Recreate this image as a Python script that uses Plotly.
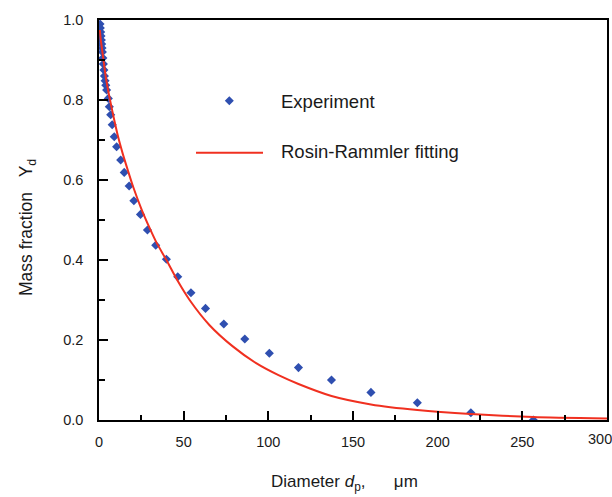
import plotly.graph_objects as go

# ---- data ----
exp_d = [0.6, 0.8, 1.0, 1.2, 1.4, 1.6, 1.8, 2.0, 2.3, 2.6, 2.9, 3.2, 3.6, 4.0,
         4.5, 5.5, 6.1, 6.9, 7.8, 9.0, 10.4, 12.8, 14.9, 17.8, 20.6, 24.5, 28.6,
         33.5, 39.8, 46.5, 54.3, 62.9, 73.7, 86.1, 100.6, 117.8, 137.3, 160.6,
         188.0, 219.6, 256.5]
exp_y = [0.99, 0.98, 0.97, 0.96, 0.95, 0.94, 0.93, 0.92, 0.905, 0.89, 0.875,
         0.86, 0.848, 0.837, 0.825, 0.804, 0.783, 0.763, 0.738, 0.708, 0.683,
         0.65, 0.619, 0.585, 0.548, 0.514, 0.475, 0.437, 0.402, 0.358, 0.318,
         0.279, 0.24, 0.2025, 0.167, 0.131, 0.10, 0.069, 0.043, 0.018, 0.0]

fit_d = [0.5, 1, 2.5, 4, 6.5, 9, 11.4, 14, 17.2, 20, 25, 30, 33.9, 39.8, 46.7,
         53.5, 65.3, 79, 92.8, 106, 117.8, 137.3, 160.6, 188, 219.6, 256.5, 300]
fit_y = [0.975, 0.952, 0.905, 0.858, 0.80, 0.75, 0.706, 0.666, 0.622, 0.585,
         0.528, 0.479, 0.444, 0.40, 0.346, 0.30, 0.237, 0.184, 0.142, 0.112,
         0.09, 0.06, 0.039, 0.025, 0.015, 0.0075, 0.0035]

x_ticks = [0, 50, 100, 150, 200, 250]
y_ticks = [0.0, 0.2, 0.4, 0.6, 0.8, 1.0]

legend_labels = ["Experiment", "Rosin-Rammler fitting"]
NB = "\u00a0"
x_title = "Diameter <i>d</i><sub>p</sub>," + NB * 6 + "μm"
y_title = "Mass fraction" + NB * 3 + "Y<sub>d</sub>"

BLUE = "#2f4fb0"
RED = "#f03020"
FONT = "Liberation Sans, Arial, sans-serif"
TXT = "#1a1a1a"

fig = go.Figure()
fig.add_trace(go.Scatter(x=exp_d, y=exp_y, mode="markers",
                         marker=dict(symbol="diamond", size=7, color=BLUE),
                         name=legend_labels[0], showlegend=False))
fig.add_trace(go.Scatter(x=fit_d, y=fit_y, mode="lines",
                         line=dict(color=RED, width=2, shape="spline", smoothing=0.6),
                         name=legend_labels[1], showlegend=False))

axis_common = dict(showline=True, linecolor="black", linewidth=1.5, mirror=True,
                   showgrid=False, zeroline=False, ticks="inside",
                   tickcolor="black", tickwidth=1.5, automargin=False,
                   tickfont=dict(family=FONT, size=14.5, color=TXT))

fig.update_xaxes(range=[0, 300], tickvals=x_ticks, ticklen=9,
                 ticklabelstandoff=8,
                 minor=dict(dtick=25, tick0=0, ticks="inside", ticklen=5,
                            tickcolor="black", tickwidth=1.5),
                 **axis_common)
fig.update_yaxes(range=[0, 1], tickvals=y_ticks, tickformat=".1f", ticklen=9,
                 ticklabelstandoff=11,
                 minor=dict(dtick=0.1, tick0=0, ticks="inside", ticklen=6,
                            tickcolor="black", tickwidth=1.5),
                 **axis_common)

# plot area: x 99..607 px, y 20..420 px
L, R, T, B = 99, 5, 20, 77
W, H = 612, 497
PW, PH = W - L - R, H - T - B

def px(xp):
    return (xp - L) / PW

def py(yp):
    return (H - B - yp) / PH

annotations = [
    dict(text=legend_labels[0], x=px(279), y=py(101), xref="paper", yref="paper",
         xanchor="left", yanchor="middle", showarrow=False,
         font=dict(family=FONT, size=18.5, color=TXT)),
    dict(text=legend_labels[1], x=px(279), y=py(152), xref="paper", yref="paper",
         xanchor="left", yanchor="middle", showarrow=False,
         font=dict(family=FONT, size=18.5, color=TXT)),
    dict(text=x_title, x=px(344), y=py(483), xref="paper", yref="paper",
         xanchor="center", yanchor="middle", showarrow=False,
         font=dict(family=FONT, size=17, color=TXT)),
    dict(text=y_title, x=px(27), y=py(228), xref="paper", yref="paper",
         xanchor="center", yanchor="middle", showarrow=False, textangle=-90,
         font=dict(family=FONT, size=17.5, color=TXT)),
    dict(text="300", x=300, y=0, xref="x", yref="paper", xanchor="right",
         yanchor="middle", xshift=7, yshift=-19, showarrow=False,
         font=dict(family=FONT, size=14.5, color=TXT)),
]

shapes = [
    dict(type="line", xref="paper", yref="paper", x0=px(196), x1=px(263),
         y0=py(152.7), y1=py(152.7), line=dict(color=RED, width=2)),
    dict(type="path", xref="paper", yref="paper", xsizemode="pixel",
         ysizemode="pixel", xanchor=px(229.3), yanchor=py(100.7),
         path="M-4.5,0 L0,4.5 L4.5,0 L0,-4.5 Z",
         fillcolor=BLUE, line=dict(width=0)),
]

fig.update_layout(width=W, height=H, margin=dict(l=L, r=R, t=T, b=B),
                  plot_bgcolor="white", paper_bgcolor="white",
                  annotations=annotations, shapes=shapes, showlegend=False)

fig.write_html("out.html", config={"displayModeBar": False},
               post_script="document.body.style.margin='0';document.body.style.padding='0';")
